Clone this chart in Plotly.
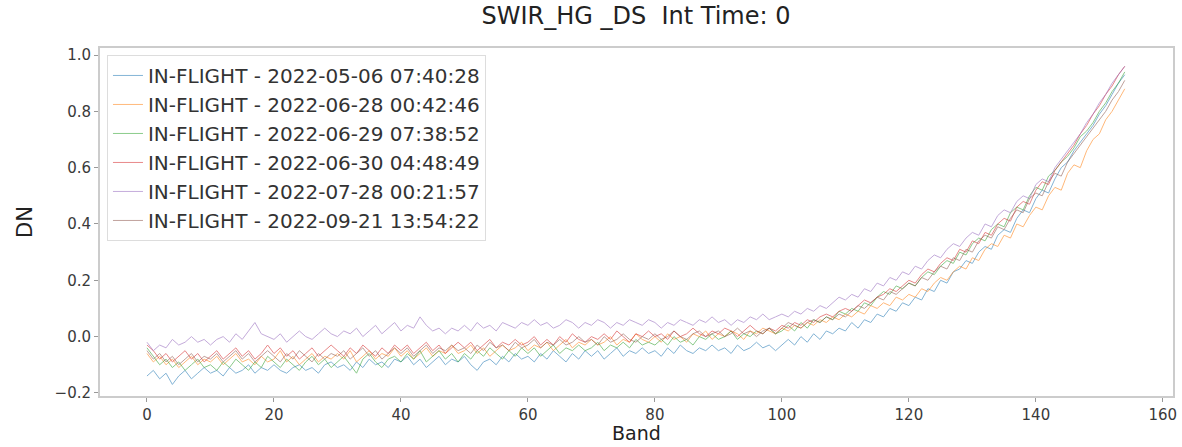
import plotly.graph_objects as go

bands = list(range(155))

names = [
    "IN-FLIGHT - 2022-05-06 07:40:28",
    "IN-FLIGHT - 2022-06-28 00:42:46",
    "IN-FLIGHT - 2022-06-29 07:38:52",
    "IN-FLIGHT - 2022-06-30 04:48:49",
    "IN-FLIGHT - 2022-07-28 00:21:57",
    "IN-FLIGHT - 2022-09-21 13:54:22",
]
colors = ["#1f77b4", "#ff7f0e", "#2ca02c", "#d62728", "#9467bd", "#8c564b"]

s_0506 = [
    -0.14, -0.12, -0.15, -0.13, -0.17, -0.14, -0.12, -0.15, -0.13, -0.11,
    -0.13, -0.12, -0.14, -0.11, -0.13, -0.12, -0.10, -0.13, -0.11, -0.12,
    -0.10, -0.12, -0.13, -0.11, -0.10, -0.12, -0.11, -0.13, -0.10, -0.09,
    -0.11, -0.10, -0.12, -0.09, -0.11, -0.08, -0.10, -0.09, -0.11, -0.08,
    -0.09, -0.07, -0.10, -0.08, -0.11, -0.09, -0.07, -0.10, -0.08, -0.09,
    -0.07, -0.10, -0.12, -0.09, -0.08, -0.10, -0.07, -0.09, -0.06, -0.08,
    -0.07, -0.09, -0.06, -0.08, -0.05, -0.07, -0.09, -0.06, -0.08, -0.05,
    -0.07, -0.05, -0.08, -0.06, -0.04, -0.07, -0.05, -0.06, -0.04, -0.06,
    -0.05, -0.07, -0.04, -0.06, -0.03, -0.05, -0.06, -0.04, -0.05, -0.03,
    -0.05, -0.04, -0.06, -0.03, -0.05, -0.04, -0.02, -0.04, -0.03, -0.05,
    -0.03, -0.01, -0.03, 0.00, -0.02, 0.01, -0.01, 0.02, 0.01, 0.03,
    0.02, 0.05, 0.03, 0.06, 0.05, 0.08, 0.07, 0.10, 0.09, 0.12,
    0.11, 0.14, 0.13, 0.17, 0.16, 0.20, 0.19, 0.23, 0.24, 0.27,
    0.26, 0.30, 0.32, 0.31, 0.36, 0.38, 0.37, 0.42, 0.45, 0.44,
    0.49, 0.52, 0.51, 0.56, 0.60, 0.62, 0.66, 0.69, 0.72, 0.75,
    0.79, 0.82, 0.86, 0.90, 0.93,
]
s_0628 = [
    -0.06, -0.09, -0.07, -0.10, -0.08, -0.11, -0.09, -0.07, -0.10, -0.08,
    -0.09, -0.07, -0.10, -0.08, -0.06, -0.09, -0.08, -0.10, -0.07, -0.09,
    -0.08, -0.05, -0.09, -0.07, -0.10, -0.08, -0.06, -0.09, -0.07, -0.08,
    -0.06, -0.08, -0.05, -0.09, -0.07, -0.05, -0.08, -0.06, -0.07, -0.04,
    -0.07, -0.05, -0.08, -0.06, -0.04, -0.07, -0.05, -0.06, -0.03, -0.06,
    -0.05, -0.03, -0.06, -0.04, -0.07, -0.05, -0.03, -0.05, -0.04, -0.02,
    -0.05, -0.03, -0.04, -0.02, -0.05, -0.03, -0.01, -0.04, -0.02, -0.03,
    -0.01, -0.03, -0.02, 0.00, -0.03, -0.01, -0.02, 0.01, -0.01, -0.02,
    0.00, -0.02, 0.01, -0.01, 0.00, -0.02, 0.01, 0.00, 0.02, -0.01,
    0.01, 0.00, 0.02, 0.01, -0.01, 0.02, 0.01, 0.03, 0.02, 0.01,
    0.03, 0.02, 0.04, 0.03, 0.05, 0.04, 0.06, 0.05, 0.07, 0.06,
    0.08, 0.07, 0.09, 0.08, 0.11, 0.10, 0.12, 0.11, 0.14, 0.13,
    0.15, 0.14, 0.17, 0.16, 0.19, 0.21, 0.20, 0.23, 0.25, 0.24,
    0.28, 0.27, 0.31, 0.33, 0.32, 0.36, 0.35, 0.40, 0.39, 0.43,
    0.46, 0.45, 0.50, 0.53, 0.52, 0.58, 0.61, 0.60, 0.66, 0.70,
    0.72, 0.77, 0.80, 0.84, 0.88,
]
s_0629 = [
    -0.04, -0.07, -0.10, -0.08, -0.11, -0.09, -0.12, -0.10, -0.08, -0.11,
    -0.10, -0.12, -0.09, -0.11, -0.08, -0.10, -0.12, -0.09, -0.11, -0.07,
    -0.09, -0.11, -0.08, -0.10, -0.12, -0.09, -0.07, -0.10, -0.08, -0.11,
    -0.09, -0.07, -0.10, -0.13, -0.08, -0.06, -0.09, -0.11, -0.08, -0.07,
    -0.09, -0.06, -0.08, -0.05, -0.09, -0.07, -0.05, -0.08, -0.06, -0.09,
    -0.06, -0.08, -0.05, -0.07, -0.04, -0.06, -0.08, -0.05, -0.07, -0.04,
    -0.06, -0.04, -0.07, -0.05, -0.03, -0.06, -0.04, -0.05, -0.03, -0.05,
    -0.04, -0.02, -0.05, -0.03, -0.04, -0.02, -0.04, -0.01, -0.03, -0.02,
    -0.03, -0.01, -0.03, 0.00, -0.02, -0.01, -0.03, 0.00, -0.01, 0.01,
    -0.01, 0.00, 0.02, -0.01, 0.01, 0.00, 0.02, 0.01, 0.03, 0.01,
    0.02, 0.04, 0.02, 0.05, 0.03, 0.06, 0.05, 0.07, 0.06, 0.09,
    0.08, 0.10, 0.09, 0.12, 0.11, 0.14, 0.16, 0.15, 0.18, 0.17,
    0.19, 0.18, 0.21, 0.23, 0.22, 0.25, 0.27, 0.26, 0.30, 0.29,
    0.33, 0.35, 0.34, 0.38, 0.40, 0.39, 0.44, 0.46, 0.45, 0.50,
    0.53, 0.52, 0.57, 0.59, 0.62, 0.64, 0.67, 0.71, 0.73, 0.76,
    0.80, 0.83, 0.87, 0.90, 0.94,
]
s_0630 = [
    -0.03, -0.05, -0.08, -0.06, -0.09, -0.07, -0.05, -0.08, -0.06, -0.09,
    -0.07, -0.05, -0.08, -0.06, -0.04, -0.07, -0.05, -0.08, -0.06, -0.03,
    -0.06, -0.04, -0.07, -0.05, -0.08, -0.06, -0.04, -0.07, -0.05, -0.03,
    -0.05, -0.07, -0.04, -0.06, -0.03, -0.05, -0.07, -0.04, -0.06, -0.03,
    -0.05, -0.03, -0.06, -0.04, -0.02, -0.05, -0.03, -0.06, -0.04, -0.02,
    -0.04, -0.02, -0.05, -0.03, -0.01, -0.04, -0.02, -0.03, -0.01, -0.03,
    -0.02, 0.00, -0.03, -0.01, -0.03, 0.00, -0.02, 0.01, -0.01, -0.02,
    0.00, -0.01, 0.01, -0.01, 0.02, 0.00, -0.02, 0.01, 0.00, 0.02,
    0.00, 0.01, -0.01, 0.02, 0.00, 0.01, 0.03, 0.01, 0.00, 0.02,
    0.01, 0.03, 0.02, 0.00, 0.02, 0.04, 0.02, 0.01, 0.03, 0.02,
    0.04, 0.03, 0.05, 0.04, 0.06, 0.05, 0.07, 0.08, 0.07, 0.09,
    0.10, 0.09, 0.11, 0.13, 0.12, 0.14, 0.15, 0.17, 0.16, 0.18,
    0.20, 0.19, 0.22, 0.24, 0.23, 0.26, 0.28, 0.27, 0.31, 0.30,
    0.34, 0.33, 0.37, 0.36, 0.40, 0.42, 0.41, 0.46, 0.48, 0.47,
    0.52, 0.55, 0.54, 0.59, 0.62, 0.65, 0.68, 0.72, 0.75, 0.79,
    0.82, 0.86, 0.89, 0.93, 0.96,
]
s_0728 = [
    -0.02, -0.05, -0.03, -0.04, -0.01, -0.03, -0.02, 0.00, -0.02, -0.01,
    -0.03, -0.01, 0.00, -0.02, 0.01, -0.01, 0.02, 0.05, 0.01, 0.00,
    -0.01, 0.01, -0.02, 0.00, 0.02, 0.00, -0.01, 0.01, 0.03, 0.01,
    0.00, 0.02, 0.01, 0.03, 0.00, 0.02, 0.04, 0.01, 0.03, 0.05,
    0.02, 0.04, 0.03, 0.07, 0.04, 0.02, 0.03, 0.01, 0.03, 0.02,
    0.04, 0.02, 0.05, 0.03, 0.04, 0.02, 0.05, 0.04, 0.03, 0.05,
    0.04, 0.06, 0.04, 0.05, 0.03, 0.04, 0.06, 0.05, 0.03, 0.05,
    0.04, 0.06, 0.05, 0.03, 0.05, 0.04, 0.06, 0.05, 0.04, 0.06,
    0.05, 0.03, 0.05, 0.04, 0.06, 0.05, 0.04, 0.06, 0.05, 0.07,
    0.05, 0.06, 0.04, 0.06, 0.05, 0.07, 0.06, 0.08, 0.06, 0.07,
    0.08, 0.07, 0.09, 0.08, 0.10, 0.09, 0.11, 0.10, 0.12, 0.14,
    0.13, 0.15, 0.14, 0.17, 0.16, 0.19, 0.18, 0.21, 0.20, 0.23,
    0.22, 0.25, 0.24, 0.27, 0.29, 0.28, 0.31, 0.33, 0.32, 0.35,
    0.37, 0.36, 0.40, 0.39, 0.43, 0.45, 0.44, 0.48, 0.50, 0.49,
    0.54, 0.56, 0.55, 0.60, 0.63, 0.66, 0.69, 0.72, 0.76, 0.79,
    0.83, 0.86, 0.90, 0.93, 0.96,
]
s_0921 = [
    -0.05, -0.08, -0.06, -0.09, -0.07, -0.10, -0.08, -0.06, -0.09, -0.07,
    -0.08, -0.06, -0.09, -0.07, -0.05, -0.08, -0.06, -0.09, -0.07, -0.05,
    -0.07, -0.09, -0.06, -0.08, -0.05, -0.07, -0.09, -0.06, -0.08, -0.06,
    -0.07, -0.05, -0.08, -0.06, -0.04, -0.07, -0.05, -0.08, -0.06, -0.04,
    -0.06, -0.04, -0.07, -0.05, -0.03, -0.06, -0.04, -0.05, -0.03, -0.05,
    -0.04, -0.06, -0.03, -0.05, -0.02, -0.04, -0.03, -0.05, -0.02, -0.04,
    -0.03, -0.01, -0.04, -0.02, -0.03, -0.01, -0.03, -0.02, 0.00, -0.02,
    -0.01, -0.03, 0.00, -0.02, -0.01, 0.01, -0.01, -0.02, 0.00, -0.01,
    0.01, -0.01, 0.00, 0.02, 0.00, -0.01, 0.01, 0.02, 0.00, 0.01,
    0.02, 0.00, 0.01, 0.03, 0.01, 0.02, 0.00, 0.02, 0.03, 0.01,
    0.03, 0.05, 0.04, 0.03, 0.05, 0.06, 0.05, 0.07, 0.06, 0.08,
    0.07, 0.09, 0.11, 0.10, 0.12, 0.14, 0.13, 0.16, 0.15, 0.17,
    0.19, 0.18, 0.21, 0.20, 0.23, 0.25, 0.24, 0.28, 0.27, 0.31,
    0.30, 0.34, 0.36, 0.35, 0.39, 0.38, 0.42, 0.45, 0.44, 0.49,
    0.51, 0.50, 0.55, 0.58, 0.57, 0.62, 0.65, 0.68, 0.71, 0.74,
    0.77, 0.80, 0.84, 0.87, 0.91,
]
series = [s_0506, s_0628, s_0629, s_0630, s_0728, s_0921]

x_ticks = [0, 20, 40, 60, 80, 100, 120, 140, 160]
y_ticks = [-0.2, 0.0, 0.2, 0.4, 0.6, 0.8, 1.0]

FONT = "DejaVu Sans"
L, R, T, B = 100, 5, 48, 51
PLOT_H = 447 - T - B

fig = go.Figure()
for nm, c, ys in zip(names, colors, series):
    fig.add_trace(go.Scatter(
        x=bands, y=ys, mode="lines", name=nm,
        line=dict(color=c, width=1), opacity=0.55,
    ))

axis_common = dict(
    showgrid=False, zeroline=False,
    showline=True, linecolor="#cccccc", linewidth=2, mirror=True,
    ticks="outside", ticklen=4, tickcolor="#999999", tickwidth=1,
    tickfont=dict(family=FONT, size=15, color="#3a3a3a"),
)
fig.update_layout(
    width=1182, height=447,
    margin=dict(l=L, r=R, t=T, b=B),
    paper_bgcolor="white", plot_bgcolor="white",
    title=dict(text="SWIR_HG _DS  Int Time: 0", x=636 / 1182, xanchor="center",
               y=1 - 16 / 447, yanchor="middle",
               font=dict(family=FONT, size=24, color="#222222")),
    xaxis=dict(range=[-7.4, 161.6], tickvals=x_ticks, **axis_common),
    yaxis=dict(range=[-0.211, 1.025], tickvals=y_ticks, tickformat=".1f",
               title=dict(text="DN", font=dict(family=FONT, size=21, color="#222222"), standoff=16),
               **axis_common),
    legend=dict(x=0.0065, y=0.98, xanchor="left", yanchor="top",
                bgcolor="rgba(255,255,255,0.8)", bordercolor="#dddddd", borderwidth=1,
                font=dict(family=FONT, size=20, color="#333333")),
    showlegend=True,
    annotations=[dict(
        text="Band", xref="paper", yref="paper", x=0.5, y=-B / PLOT_H,
        xanchor="center", yanchor="bottom", showarrow=False, yshift=1,
        font=dict(family=FONT, size=19, color="#222222"),
    )],
)
fig.write_html(
    "out.html",
    config={"displayModeBar": False},
    post_script="document.body.style.margin='0';document.body.style.overflow='hidden';",
)
